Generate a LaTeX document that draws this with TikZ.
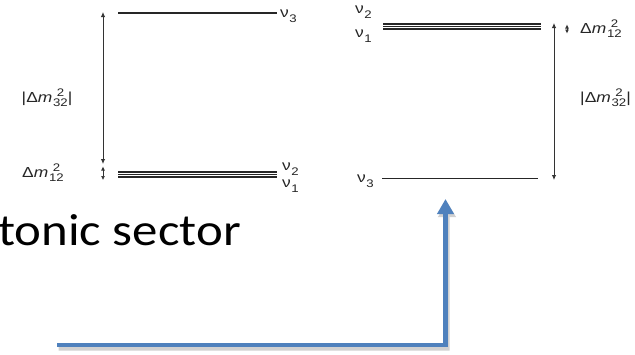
\documentclass[tikz,border=0pt]{standalone}
\usepackage{fontspec}
\setmainfont{Liberation Sans}
\newfontfamily\slidefont{Carlito}
\usetikzlibrary{arrows.meta}
\newcommand\smallfs{\fontsize{11}{11}\selectfont}
\newcommand\nulab[1]{ν\kern0.3pt\raisebox{-0.35em}{\smallfs #1}}
\newcommand\dmsq[1]{Δ\textit{m}\kern0.6pt\raisebox{-0.32em}{\smallfs\rlap{\raisebox{0.92em}{\kern0.28em 2}}#1}}
\begin{document}
\begin{tikzpicture}[x=1pt,y=-1pt,
  lab/.style={inner sep=0pt,font=\fontsize{14.5}{14.5}\selectfont,anchor=base west,xscale=1.2,text=black!85},
  level/.style={line width=1.7pt,black!85},
  thin level/.style={line width=1.1pt,black!85},
  gap/.style={line width=0.9pt,black!80,{Latex[length=5pt,width=4.5pt]}-{Latex[length=5pt,width=4.5pt]}},
  tiny gap/.style={line width=0.7pt,black!80,{Latex[length=4pt,width=4pt]}-{Latex[length=4pt,width=4pt]}},
  bluearrow/.style={line width=4.5pt,color={rgb,255:red,79;green,129;blue,189},line join=miter,-{Triangle[width=16pt,length=15pt]}},
  shadowarrow/.style={line width=5pt,black,line join=miter,-{Triangle[width=17pt,length=15pt]}}]
\useasboundingbox (0,0) rectangle (635,354);
\clip (0,0) rectangle (635,354);
\fill[white] (0,0) rectangle (635,354);

% ---------- left diagram (normal ordering) ----------
\coordinate (L3a) at (118,13);   \coordinate (L3b) at (277,13);
\coordinate (L2a) at (118,172);  \coordinate (L2b) at (277,172);
\coordinate (Lma) at (118,174.5);\coordinate (Lmb) at (277,174.5);
\coordinate (L1a) at (118,177);  \coordinate (L1b) at (277,177);
\draw[level] (L3a) -- (L3b);
\draw[thin level] (L2a) -- (L2b);
\draw[thin level] (Lma) -- (Lmb);
\draw[thin level] (L1a) -- (L1b);
\node[lab] (nu3L) at (280,17) {\nulab{3}};
\node[lab] (nu2L) at (282,170) {\nulab{2}};
\node[lab] (nu1L) at (282,187) {\nulab{1}};
\coordinate (LAt) at (103,12); \coordinate (LAb) at (103,164);
\draw[gap] (LAt) -- (LAb);
\coordinate (LSt) at (103,166.5); \coordinate (LSb) at (103,180);
\draw[tiny gap] (LSt) -- (LSb);
\node[lab] (dm32L) at (21.5,102) {|\dmsq{32}|};
\node[lab] (dm12L) at (22,177) {\dmsq{12}};

% ---------- right diagram (inverted ordering) ----------
\coordinate (R2a) at (383,24);   \coordinate (R2b) at (541,24);
\coordinate (Rma) at (383,26.5); \coordinate (Rmb) at (541,26.5);
\coordinate (R1a) at (383,29);   \coordinate (R1b) at (541,29);
\coordinate (R3a) at (382,178.5);\coordinate (R3b) at (538,178.5);
\draw[thin level] (R2a) -- (R2b);
\draw[thin level] (Rma) -- (Rmb);
\draw[thin level] (R1a) -- (R1b);
\draw[level] (R3a) -- (R3b);
\node[lab] (nu2R) at (355,13) {\nulab{2}};
\node[lab] (nu1R) at (355,37) {\nulab{1}};
\node[lab] (nu3R) at (357,182) {\nulab{3}};
\coordinate (RAt) at (554,23); \coordinate (RAb) at (554,180);
\draw[gap] (RAt) -- (RAb);
\coordinate (RSt) at (567,24.5); \coordinate (RSb) at (567,33.5);
\draw[tiny gap] (RSt) -- (RSb);
\node[lab] (dm12R) at (580,33) {\dmsq{12}};
\node[lab] (dm32R) at (580,102) {|\dmsq{32}|};

% ---------- slide text ----------
\node[inner sep=0pt,anchor=base east,xscale=1.13,font=\slidefont\fontsize{45}{45}\selectfont] (sector) at (241,245) {tonic sector};

% ---------- blue arrow ----------
\coordinate (B0) at (57,345);
\coordinate (B1) at (445.5,345);
\coordinate (B2) at (445.5,199);
\begin{scope}[transparency group,opacity=0.18]
\draw[shadowarrow] ([shift={(1.5,3)}]B0) -- ([shift={(1.5,3)}]B1) -- ([shift={(1.5,3)}]B2);
\end{scope}
\draw[bluearrow] (B0) -- (B1) -- (B2);
\end{tikzpicture}
\end{document}
